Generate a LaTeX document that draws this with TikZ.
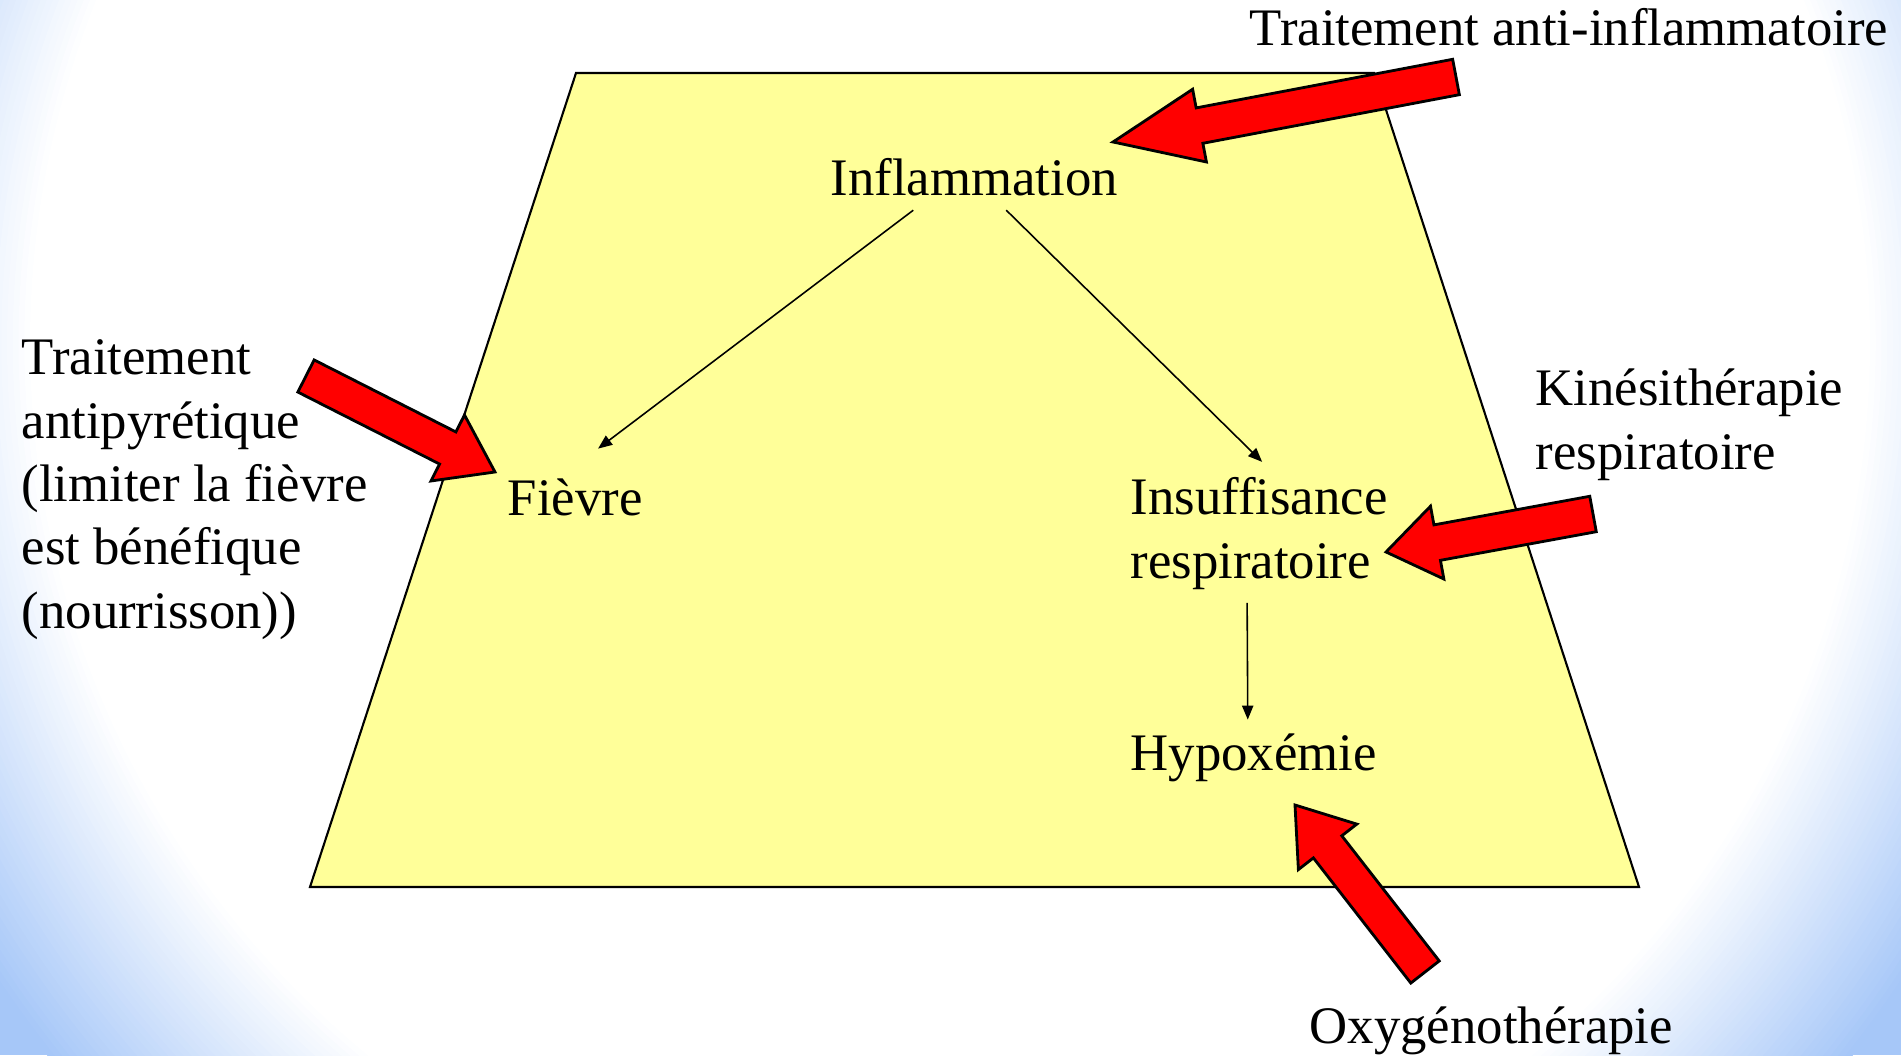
\documentclass[tikz,border=0pt]{standalone}
\usepackage{fontspec}
\setmainfont{Liberation Serif}
\usetikzlibrary{calc,arrows.meta}

\definecolor{slideblue}{RGB}{166,199,248}
\definecolor{plateyellow}{RGB}{255,255,153}

\tikzset{
  lbl/.style={inner sep=0pt, anchor=base west, align=left, font=\fontsize{15pt}{18pt}\selectfont},
  plate/.style={draw=black, line width=0.6pt, fill=plateyellow},
  link/.style={line width=0.45pt, -{Triangle[length=4pt,width=3.2pt]}},
  fat/.style={draw=black, line width=0.8pt, fill=red, line join=miter}
}

% big red pointer: tail, tip, head length
\newcommand{\fatarrow}[3]{%
  \coordinate (hb) at ($(#2)!#3!(#1)$);
  \draw[fat] ($(#1)!0.18cm!90:(#2)$) -- ($(hb)!0.18cm!90:(#2)$) -- ($(hb)!0.37cm!90:(#2)$) -- (#2)
    -- ($(hb)!0.37cm!-90:(#2)$) -- ($(hb)!0.18cm!-90:(#2)$) -- ($(#1)!0.18cm!-90:(#2)$) -- cycle;
}

\begin{document}
\begin{tikzpicture}[x=0.01cm, y=-0.01cm]
% background glow, blue at the corners
\begin{scope}
  \clip (0,0) rectangle (1901,1055);
  \fill[slideblue] (0,0) rectangle (1901,1055);
  \foreach \i in {0,...,40}{
    \pgfmathsetmacro\rr{1150-\i*5.75}
    \pgfmathsetmacro\pc{100-\i*2.5}
    \fill[slideblue!\pc!white] (950,343) circle[radius=\rr];
  }
\end{scope}
\useasboundingbox (0,0) rectangle (1901,1055);

\draw[plate] (576,73) -- (1374,73) -- (1639,887) -- (310,887) -- cycle;

% multi-line nodes are placed at the baseline of their last line
\node[lbl] (infl) at (830,196) {Inflammation};
\node[lbl] (fievre) at (507,515) {Fièvre};
\node[lbl] (insuff) at (1130,578) {Insuffisance\\respiratoire};
\node[lbl] (hypox) at (1130,770) {Hypoxémie};
\node[lbl] (tAnti) at (1249,46) {Traitement anti-inflammatoire};
\node[lbl] (tPyr) at (21,628) {Traitement\\antipyrétique\\(limiter la fièvre\\est bénéfique\\(nourrisson))};
\node[lbl] (kine) at (1535,469) {Kinésithérapie\\respiratoire};
\node[lbl] (oxy) at (1309,1043) {Oxygénothérapie};

\draw[link] ([shift={(-61,13)}]infl.south) -- ([shift={(23,-29)}]fievre.north);
\draw[link] ([shift={(32,13)}]infl.south) -- ([shift={(3,-15)}]insuff.north);
\draw[link] ([shift={(-12,13)}]insuff.south) -- ([shift={(-6,-13)}]hypox.north);

\coordinate (antiTail) at (1456,77); \coordinate (antiTip) at (1113,142);
\coordinate (pyrTail) at (306,376); \coordinate (pyrTip) at (495,472);
\coordinate (kineTail) at (1593,514); \coordinate (kineTip) at (1386,552);
\coordinate (oxyTail) at (1425,972); \coordinate (oxyTip) at (1295,805);
\fatarrow{antiTail}{antiTip}{0.88cm}
\fatarrow{pyrTail}{pyrTip}{0.53cm}
\fatarrow{kineTail}{kineTip}{0.52cm}
\fatarrow{oxyTail}{oxyTip}{0.53cm}
\end{tikzpicture}
\end{document}
